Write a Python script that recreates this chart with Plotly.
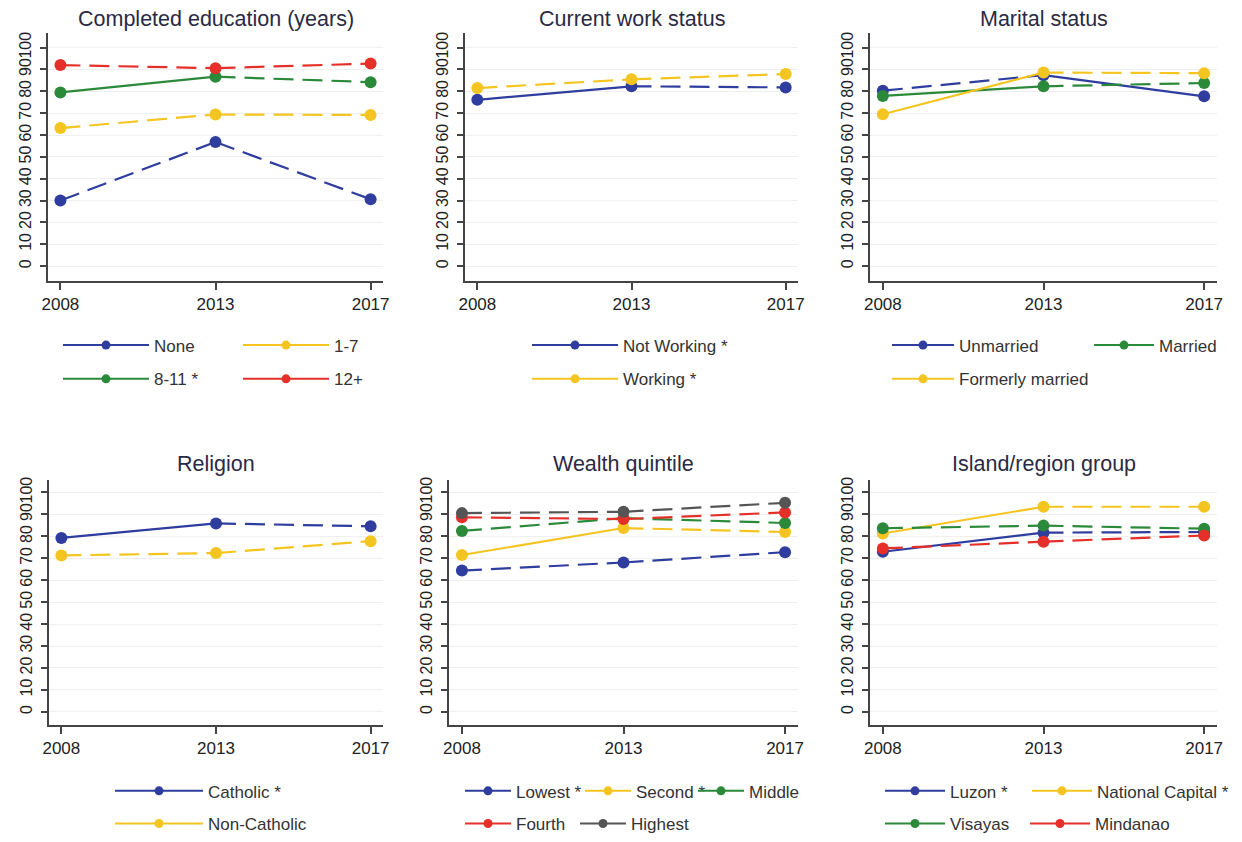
import plotly.graph_objects as go

# ---------------- data ----------------
years = ["2008", "2013", "2017"]

# Completed education (years)
edu_none = [30.0, 56.8, 30.6]
edu_1_7 = [63.2, 69.4, 69.2]
edu_8_11 = [79.5, 86.7, 84.2]
edu_12p = [92.0, 90.6, 92.7]

# Current work status
work_not = [76.1, 82.3, 81.8]
work_yes = [81.5, 85.5, 87.9]

# Marital status
mar_unmarried = [80.3, 87.4, 77.7]
mar_married = [77.9, 82.3, 83.8]
mar_former = [69.5, 88.6, 88.3]

# Religion
rel_catholic = [79.3, 85.9, 84.6]
rel_noncatholic = [71.3, 72.4, 77.8]

# Wealth quintile
w_lowest = [64.4, 68.1, 72.8]
w_second = [71.5, 83.8, 82.0]
w_middle = [82.5, 88.3, 86.1]
w_fourth = [88.7, 87.9, 90.9]
w_highest = [90.6, 91.2, 95.3]

# Island/region group
reg_luzon = [73.0, 81.7, 82.0]
reg_ncr = [81.3, 93.5, 93.5]
reg_visayas = [83.7, 84.9, 83.5]
reg_mindanao = [74.5, 77.6, 80.4]

y_ticks = list(range(0, 101, 10))

panel_titles = ["Completed education (years)", "Current work status", "Marital status",
                "Religion", "Wealth quintile", "Island/region group"]

# ---------------- styles ----------------
BLUE = "#2f3d9e"
YELLOW = "#f4c520"
GREEN = "#2b8a3a"
RED = "#e5302a"
GREY = "#555555"

S, D = "solid", "20px,9px"

# panel index, label, values, segment styles, colour, legend (line start px, row, symbol width)
series = [
    (0, "None", edu_none, [D, D], BLUE, (63, 0, 86)),
    (0, "1-7", edu_1_7, [D, D], YELLOW, (243, 0, 86)),
    (0, "8-11 *", edu_8_11, [S, D], GREEN, (63, 1, 86)),
    (0, "12+", edu_12p, [D, D], RED, (243, 1, 86)),
    (1, "Not Working *", work_not, [S, D], BLUE, (532, 0, 86)),
    (1, "Working *", work_yes, [D, D], YELLOW, (532, 1, 86)),
    (2, "Unmarried", mar_unmarried, [D, S], BLUE, (892, 0, 62)),
    (2, "Married", mar_married, [S, D], GREEN, (1094, 0, 60)),
    (2, "Formerly married", mar_former, [S, D], YELLOW, (892, 1, 62)),
    (3, "Catholic *", rel_catholic, [S, D], BLUE, (115, 0, 88)),
    (3, "Non-Catholic", rel_noncatholic, [D, D], YELLOW, (115, 1, 88)),
    (4, "Lowest *", w_lowest, [D, D], BLUE, (465, 0, 46)),
    (4, "Second *", w_second, [S, D], YELLOW, (585, 0, 46)),
    (4, "Middle", w_middle, [D, D], GREEN, (698, 0, 46)),
    (4, "Fourth", w_fourth, [D, D], RED, (465, 1, 46)),
    (4, "Highest", w_highest, [D, D], GREY, (580, 1, 46)),
    (5, "Luzon *", reg_luzon, [S, D], BLUE, (885, 0, 60)),
    (5, "National Capital *", reg_ncr, [S, D], YELLOW, (1032, 0, 60)),
    (5, "Visayas", reg_visayas, [D, D], GREEN, (885, 1, 60)),
    (5, "Mindanao", reg_mindanao, [D, D], RED, (1030, 1, 60)),
]

W, H = 1242, 842
FONT = "Arial, Liberation Sans, sans-serif"

# plot areas in px: (left, right, top, bottom)
areas = [
    (48, 383, 33, 283), (465, 798, 33, 283), (870, 1217, 33, 283),
    (49, 383, 483, 730), (449, 798, 483, 730), (870, 1217, 483, 730),
]
y_ranges = [[-6.8, 106.8]] * 3 + [[-5.9, 105.9]] * 3
legend_rows = [[348, 382], [797, 830]]
title_centers = [19, 19, 19, 467, 467, 467]

fig = go.Figure()
layout = dict(
    width=W, height=H,
    margin=dict(l=0, r=0, t=0, b=0),
    paper_bgcolor="white", plot_bgcolor="white",
    font=dict(family=FONT, color="#333333"),
    showlegend=True,
    annotations=[],
)

for i, (l, r, t, b) in enumerate(areas):
    xa = "xaxis" if i == 0 else f"xaxis{i+1}"
    ya = "yaxis" if i == 0 else f"yaxis{i+1}"
    layout[xa] = dict(
        domain=[l / W, r / W], anchor=f"y{'' if i == 0 else i+1}",
        type="category", categoryorder="array", categoryarray=years,
        range=[-0.08, 2.08], showline=True, linecolor="#444444", linewidth=1.5,
        ticks="outside", ticklen=7, tickcolor="#444444", tickwidth=1.5,
        tickfont=dict(size=17, color="#222222", family=FONT),
        showgrid=False, zeroline=False, automargin=False, fixedrange=True,
    )
    layout[ya] = dict(
        domain=[1 - b / H, 1 - t / H], anchor=f"x{'' if i == 0 else i+1}",
        range=y_ranges[i], tickvals=y_ticks, tickangle=-90,
        showline=True, linecolor="#444444", linewidth=1.5,
        ticks="outside", ticklen=6, tickcolor="#444444", tickwidth=1.5,
        ticklabelstandoff=3,
        tickfont=dict(size=16, color="#222222", family=FONT),
        showgrid=True, gridcolor="#efefef", gridwidth=1,
        zeroline=False, automargin=False, fixedrange=True,
    )
    layout["annotations"].append(dict(
        text=panel_titles[i], xref="paper", yref="paper",
        x=(l + r) / 2 / W, y=1 - title_centers[i] / H, xanchor="center", yanchor="middle",
        showarrow=False, font=dict(size=21.5, color="#2a2a44", family=FONT),
    ))

for k, (p, name, vals, styles, color, (lx, row, sw)) in enumerate(series):
    xr = "x" if p == 0 else f"x{p+1}"
    yr = "y" if p == 0 else f"y{p+1}"
    lg = "legend" if k == 0 else f"legend{k+1}"
    for j in range(len(years) - 1):
        fig.add_trace(go.Scatter(
            x=years[j:j + 2], y=vals[j:j + 2], mode="lines",
            line=dict(color=color, width=2.2, dash=styles[j]),
            xaxis=xr, yaxis=yr, showlegend=False, hoverinfo="skip",
        ))
    fig.add_trace(go.Scatter(
        x=years, y=vals, mode="markers", name=name,
        marker=dict(color=color, size=12),
        xaxis=xr, yaxis=yr, showlegend=False,
    ))
    # legend entry
    fig.add_trace(go.Scatter(
        x=[None], y=[None], mode="lines+markers", name=name,
        line=dict(color=color, width=2), marker=dict(color=color, size=9),
        xaxis=xr, yaxis=yr, showlegend=True, legend=lg,
    ))
    ypx = legend_rows[0 if p < 3 else 1][row]
    layout[lg] = dict(
        x=(lx - 5) / W, y=1 - ypx / H, xanchor="left", yanchor="middle",
        bgcolor="rgba(0,0,0,0)", borderwidth=0, itemwidth=sw,
        font=dict(size=17, color="#333333", family=FONT),
        itemclick=False, itemdoubleclick=False,
    )

fig.update_layout(**layout)
fig.write_html("out.html", config={"displayModeBar": False},
               post_script="document.body.style.margin='0px';")
